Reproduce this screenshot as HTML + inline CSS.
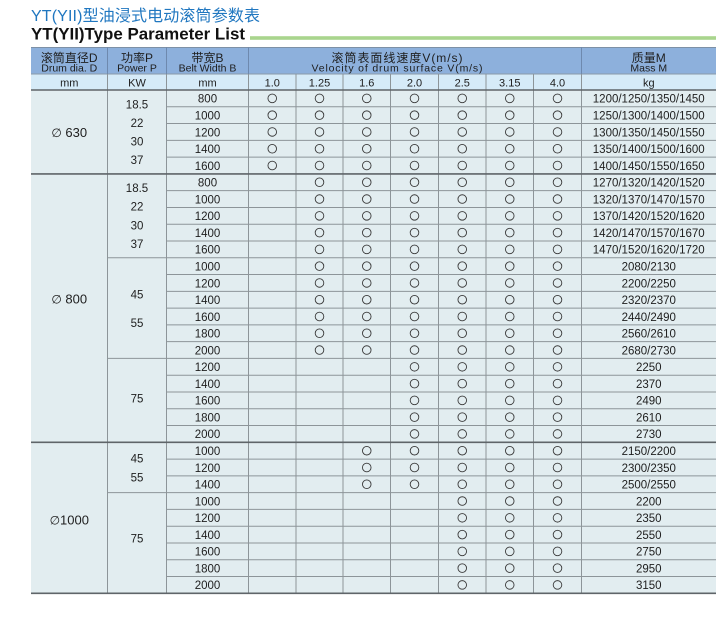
<!DOCTYPE html>
<html><head><meta charset="utf-8">
<style>
html,body{margin:0;padding:0;background:#fff;}
svg{display:block;}
text{font-family:"Liberation Sans","Noto Sans CJK SC",sans-serif;fill:#1e1e1e;}
.m text{text-anchor:middle;}
.b text{font-size:11.5px;}
.b circle{fill:none;stroke:#3a3a3a;stroke-width:0.9;}
.h1 text{font-size:12px;}
.h1 .e{font-size:10.5px;}
.h2 text{font-size:11px;}
.sym{font-family:"DejaVu Sans",sans-serif;font-size:12px;}
</style></head>
<body>
<svg width="726" height="617" viewBox="0 0 726 617" xmlns="http://www.w3.org/2000/svg">
<!-- titles -->
<text x="31" y="21" font-size="16" textLength="229" lengthAdjust="spacing" style="fill:#2077c0;font-family:'Liberation Sans','Noto Sans CJK SC',sans-serif;">YT(YII)型油浸式电动滚筒参数表</text>
<text x="31" y="39.5" font-size="16.5" font-weight="bold" textLength="214" lengthAdjust="spacingAndGlyphs" style="fill:#111;">YT(YII)Type Parameter List</text>
<rect x="250" y="36.2" width="466" height="3.6" fill="#a9d58d"/>

<!-- fills -->
<rect x="31" y="47" width="685" height="27" fill="#8db0dc"/>
<rect x="31" y="74" width="685" height="16" fill="#d6ebf8"/>
<rect x="31" y="90" width="685" height="503.3" fill="#e2edf0"/>

<!-- header lines -->
<path d="M31 47.5H716" stroke="#7d90a6" stroke-width="1"/>
<path d="M31 74H716" stroke="#8a9aa9" stroke-width="1"/>
<path d="M107.5 47V74M166.5 47V74M248.5 47V74M581.5 47V74" stroke="#6e89ae" stroke-width="1"/>

<!-- body verticals -->
<path d="M107.5 74V593.3M166.5 74V593.3M248.5 74V593.3M296 74V593.3M343 74V593.3M390.5 74V593.3M438.5 74V593.3M486 74V593.3M533.5 74V593.3M581.5 74V593.3" stroke="#8d9599" stroke-width="1" fill="none"/>

<!-- body thin horizontals -->
<path fill="none" stroke="#8d9599" stroke-width="1" d="
M166.5 106.78H716M166.5 123.55H716M166.5 140.33H716M166.5 157.11H716
M166.5 190.66H716M166.5 207.44H716M166.5 224.22H716M166.5 241H716
M107.5 257.77H716M166.5 274.55H716M166.5 291.32H716M166.5 308.1H716M166.5 324.88H716M166.5 341.66H716
M107.5 358.43H716M166.5 375.21H716M166.5 391.99H716M166.5 408.76H716M166.5 425.54H716
M166.5 459.09H716M166.5 475.87H716
M107.5 492.65H716M166.5 509.43H716M166.5 526.2H716M166.5 542.98H716M166.5 559.76H716M166.5 576.54H716"/>

<!-- thick horizontals -->
<path fill="none" stroke="#5f6569" stroke-width="1.6" d="M31 90H716M31 173.89H716M31 442.32H716M31 593.3H716"/>

<!-- header row 1 -->
<g class="m h1">
<text x="69.25" y="62">滚筒直径D</text>
<text class="e" x="69.25" y="71.5">Drum dia. D</text>
<text x="137" y="62">功率P</text>
<text class="e" x="137" y="71.5">Power P</text>
<text x="207.5" y="62">带宽B</text>
<text class="e" x="207.5" y="71.5">Belt Width B</text>
<text x="397" y="62" textLength="131" lengthAdjust="spacing">滚筒表面线速度V(m/s)</text>
<text class="e" x="397" y="71.5" textLength="171" lengthAdjust="spacing">Velocity of drum surface V(m/s)</text>
<text x="648.75" y="62">质量M</text>
<text class="e" x="648.75" y="71.5">Mass M</text>
</g>

<!-- header row 2 -->
<g class="m h2">
<text x="69.25" y="86.3">mm</text>
<text x="137" y="86.3">KW</text>
<text x="207.5" y="86.3">mm</text>
<text x="272.25" y="86.3">1.0</text>
<text x="319.5" y="86.3">1.25</text>
<text x="366.75" y="86.3">1.6</text>
<text x="414.5" y="86.3">2.0</text>
<text x="462.25" y="86.3">2.5</text>
<text x="509.75" y="86.3">3.15</text>
<text x="557.5" y="86.3">4.0</text>
<text x="648.75" y="86.3">kg</text>
</g>

<!-- D column -->
<g class="m">
<text x="69.25" y="136.8" font-size="13"><tspan class="sym">∅</tspan> 630</text>
<text x="69.25" y="303.6" font-size="13"><tspan class="sym">∅</tspan> 800</text>
<text x="69.25" y="524.6" font-size="13"><tspan class="sym">∅</tspan>1000</text>
</g>

<!-- P column -->
<g class="m b">
<text x="137" y="108.3">18.5</text>
<text x="137" y="126.9">22</text>
<text x="137" y="145.5">30</text>
<text x="137" y="164.2">37</text>
<text x="137" y="192.1">18.5</text>
<text x="137" y="210.7">22</text>
<text x="137" y="229.3">30</text>
<text x="137" y="248">37</text>
<text x="137" y="298.3">45</text>
<text x="137" y="327.2">55</text>
<text x="137" y="402.7">75</text>
<text x="137" y="462.5">45</text>
<text x="137" y="481.5">55</text>
<text x="137" y="542.5">75</text>
</g>

<!-- rows -->
<g class="m b">
<!-- 630 group -->
<g transform="translate(0,98.39)"><text x="207.5" y="4.3">800</text><circle cx="272.25" r="4.3"/><circle cx="319.5" r="4.3"/><circle cx="366.75" r="4.3"/><circle cx="414.5" r="4.3"/><circle cx="462.25" r="4.3"/><circle cx="509.75" r="4.3"/><circle cx="557.5" r="4.3"/><text x="648.75" y="4.3">1200/1250/1350/1450</text></g>
<g transform="translate(0,115.17)"><text x="207.5" y="4.3">1000</text><circle cx="272.25" r="4.3"/><circle cx="319.5" r="4.3"/><circle cx="366.75" r="4.3"/><circle cx="414.5" r="4.3"/><circle cx="462.25" r="4.3"/><circle cx="509.75" r="4.3"/><circle cx="557.5" r="4.3"/><text x="648.75" y="4.3">1250/1300/1400/1500</text></g>
<g transform="translate(0,131.94)"><text x="207.5" y="4.3">1200</text><circle cx="272.25" r="4.3"/><circle cx="319.5" r="4.3"/><circle cx="366.75" r="4.3"/><circle cx="414.5" r="4.3"/><circle cx="462.25" r="4.3"/><circle cx="509.75" r="4.3"/><circle cx="557.5" r="4.3"/><text x="648.75" y="4.3">1300/1350/1450/1550</text></g>
<g transform="translate(0,148.72)"><text x="207.5" y="4.3">1400</text><circle cx="272.25" r="4.3"/><circle cx="319.5" r="4.3"/><circle cx="366.75" r="4.3"/><circle cx="414.5" r="4.3"/><circle cx="462.25" r="4.3"/><circle cx="509.75" r="4.3"/><circle cx="557.5" r="4.3"/><text x="648.75" y="4.3">1350/1400/1500/1600</text></g>
<g transform="translate(0,165.5)"><text x="207.5" y="4.3">1600</text><circle cx="272.25" r="4.3"/><circle cx="319.5" r="4.3"/><circle cx="366.75" r="4.3"/><circle cx="414.5" r="4.3"/><circle cx="462.25" r="4.3"/><circle cx="509.75" r="4.3"/><circle cx="557.5" r="4.3"/><text x="648.75" y="4.3">1400/1450/1550/1650</text></g>
<!-- 800 group a -->
<g transform="translate(0,182.28)"><text x="207.5" y="4.3">800</text><circle cx="319.5" r="4.3"/><circle cx="366.75" r="4.3"/><circle cx="414.5" r="4.3"/><circle cx="462.25" r="4.3"/><circle cx="509.75" r="4.3"/><circle cx="557.5" r="4.3"/><text x="648.75" y="4.3">1270/1320/1420/1520</text></g>
<g transform="translate(0,199.05)"><text x="207.5" y="4.3">1000</text><circle cx="319.5" r="4.3"/><circle cx="366.75" r="4.3"/><circle cx="414.5" r="4.3"/><circle cx="462.25" r="4.3"/><circle cx="509.75" r="4.3"/><circle cx="557.5" r="4.3"/><text x="648.75" y="4.3">1320/1370/1470/1570</text></g>
<g transform="translate(0,215.83)"><text x="207.5" y="4.3">1200</text><circle cx="319.5" r="4.3"/><circle cx="366.75" r="4.3"/><circle cx="414.5" r="4.3"/><circle cx="462.25" r="4.3"/><circle cx="509.75" r="4.3"/><circle cx="557.5" r="4.3"/><text x="648.75" y="4.3">1370/1420/1520/1620</text></g>
<g transform="translate(0,232.61)"><text x="207.5" y="4.3">1400</text><circle cx="319.5" r="4.3"/><circle cx="366.75" r="4.3"/><circle cx="414.5" r="4.3"/><circle cx="462.25" r="4.3"/><circle cx="509.75" r="4.3"/><circle cx="557.5" r="4.3"/><text x="648.75" y="4.3">1420/1470/1570/1670</text></g>
<g transform="translate(0,249.39)"><text x="207.5" y="4.3">1600</text><circle cx="319.5" r="4.3"/><circle cx="366.75" r="4.3"/><circle cx="414.5" r="4.3"/><circle cx="462.25" r="4.3"/><circle cx="509.75" r="4.3"/><circle cx="557.5" r="4.3"/><text x="648.75" y="4.3">1470/1520/1620/1720</text></g>
<!-- 800 group b -->
<g transform="translate(0,266.16)"><text x="207.5" y="4.3">1000</text><circle cx="319.5" r="4.3"/><circle cx="366.75" r="4.3"/><circle cx="414.5" r="4.3"/><circle cx="462.25" r="4.3"/><circle cx="509.75" r="4.3"/><circle cx="557.5" r="4.3"/><text x="648.75" y="4.3">2080/2130</text></g>
<g transform="translate(0,282.94)"><text x="207.5" y="4.3">1200</text><circle cx="319.5" r="4.3"/><circle cx="366.75" r="4.3"/><circle cx="414.5" r="4.3"/><circle cx="462.25" r="4.3"/><circle cx="509.75" r="4.3"/><circle cx="557.5" r="4.3"/><text x="648.75" y="4.3">2200/2250</text></g>
<g transform="translate(0,299.71)"><text x="207.5" y="4.3">1400</text><circle cx="319.5" r="4.3"/><circle cx="366.75" r="4.3"/><circle cx="414.5" r="4.3"/><circle cx="462.25" r="4.3"/><circle cx="509.75" r="4.3"/><circle cx="557.5" r="4.3"/><text x="648.75" y="4.3">2320/2370</text></g>
<g transform="translate(0,316.49)"><text x="207.5" y="4.3">1600</text><circle cx="319.5" r="4.3"/><circle cx="366.75" r="4.3"/><circle cx="414.5" r="4.3"/><circle cx="462.25" r="4.3"/><circle cx="509.75" r="4.3"/><circle cx="557.5" r="4.3"/><text x="648.75" y="4.3">2440/2490</text></g>
<g transform="translate(0,333.27)"><text x="207.5" y="4.3">1800</text><circle cx="319.5" r="4.3"/><circle cx="366.75" r="4.3"/><circle cx="414.5" r="4.3"/><circle cx="462.25" r="4.3"/><circle cx="509.75" r="4.3"/><circle cx="557.5" r="4.3"/><text x="648.75" y="4.3">2560/2610</text></g>
<g transform="translate(0,350.05)"><text x="207.5" y="4.3">2000</text><circle cx="319.5" r="4.3"/><circle cx="366.75" r="4.3"/><circle cx="414.5" r="4.3"/><circle cx="462.25" r="4.3"/><circle cx="509.75" r="4.3"/><circle cx="557.5" r="4.3"/><text x="648.75" y="4.3">2680/2730</text></g>
<!-- 800 group c -->
<g transform="translate(0,366.82)"><text x="207.5" y="4.3">1200</text><circle cx="414.5" r="4.3"/><circle cx="462.25" r="4.3"/><circle cx="509.75" r="4.3"/><circle cx="557.5" r="4.3"/><text x="648.75" y="4.3">2250</text></g>
<g transform="translate(0,383.6)"><text x="207.5" y="4.3">1400</text><circle cx="414.5" r="4.3"/><circle cx="462.25" r="4.3"/><circle cx="509.75" r="4.3"/><circle cx="557.5" r="4.3"/><text x="648.75" y="4.3">2370</text></g>
<g transform="translate(0,400.38)"><text x="207.5" y="4.3">1600</text><circle cx="414.5" r="4.3"/><circle cx="462.25" r="4.3"/><circle cx="509.75" r="4.3"/><circle cx="557.5" r="4.3"/><text x="648.75" y="4.3">2490</text></g>
<g transform="translate(0,417.15)"><text x="207.5" y="4.3">1800</text><circle cx="414.5" r="4.3"/><circle cx="462.25" r="4.3"/><circle cx="509.75" r="4.3"/><circle cx="557.5" r="4.3"/><text x="648.75" y="4.3">2610</text></g>
<g transform="translate(0,433.93)"><text x="207.5" y="4.3">2000</text><circle cx="414.5" r="4.3"/><circle cx="462.25" r="4.3"/><circle cx="509.75" r="4.3"/><circle cx="557.5" r="4.3"/><text x="648.75" y="4.3">2730</text></g>
<!-- 1000 group a -->
<g transform="translate(0,450.71)"><text x="207.5" y="4.3">1000</text><circle cx="366.75" r="4.3"/><circle cx="414.5" r="4.3"/><circle cx="462.25" r="4.3"/><circle cx="509.75" r="4.3"/><circle cx="557.5" r="4.3"/><text x="648.75" y="4.3">2150/2200</text></g>
<g transform="translate(0,467.48)"><text x="207.5" y="4.3">1200</text><circle cx="366.75" r="4.3"/><circle cx="414.5" r="4.3"/><circle cx="462.25" r="4.3"/><circle cx="509.75" r="4.3"/><circle cx="557.5" r="4.3"/><text x="648.75" y="4.3">2300/2350</text></g>
<g transform="translate(0,484.26)"><text x="207.5" y="4.3">1400</text><circle cx="366.75" r="4.3"/><circle cx="414.5" r="4.3"/><circle cx="462.25" r="4.3"/><circle cx="509.75" r="4.3"/><circle cx="557.5" r="4.3"/><text x="648.75" y="4.3">2500/2550</text></g>
<!-- 1000 group b -->
<g transform="translate(0,501.04)"><text x="207.5" y="4.3">1000</text><circle cx="462.25" r="4.3"/><circle cx="509.75" r="4.3"/><circle cx="557.5" r="4.3"/><text x="648.75" y="4.3">2200</text></g>
<g transform="translate(0,517.82)"><text x="207.5" y="4.3">1200</text><circle cx="462.25" r="4.3"/><circle cx="509.75" r="4.3"/><circle cx="557.5" r="4.3"/><text x="648.75" y="4.3">2350</text></g>
<g transform="translate(0,534.59)"><text x="207.5" y="4.3">1400</text><circle cx="462.25" r="4.3"/><circle cx="509.75" r="4.3"/><circle cx="557.5" r="4.3"/><text x="648.75" y="4.3">2550</text></g>
<g transform="translate(0,551.37)"><text x="207.5" y="4.3">1600</text><circle cx="462.25" r="4.3"/><circle cx="509.75" r="4.3"/><circle cx="557.5" r="4.3"/><text x="648.75" y="4.3">2750</text></g>
<g transform="translate(0,568.15)"><text x="207.5" y="4.3">1800</text><circle cx="462.25" r="4.3"/><circle cx="509.75" r="4.3"/><circle cx="557.5" r="4.3"/><text x="648.75" y="4.3">2950</text></g>
<g transform="translate(0,584.93)"><text x="207.5" y="4.3">2000</text><circle cx="462.25" r="4.3"/><circle cx="509.75" r="4.3"/><circle cx="557.5" r="4.3"/><text x="648.75" y="4.3">3150</text></g>
</g>
</svg>
</body></html>
